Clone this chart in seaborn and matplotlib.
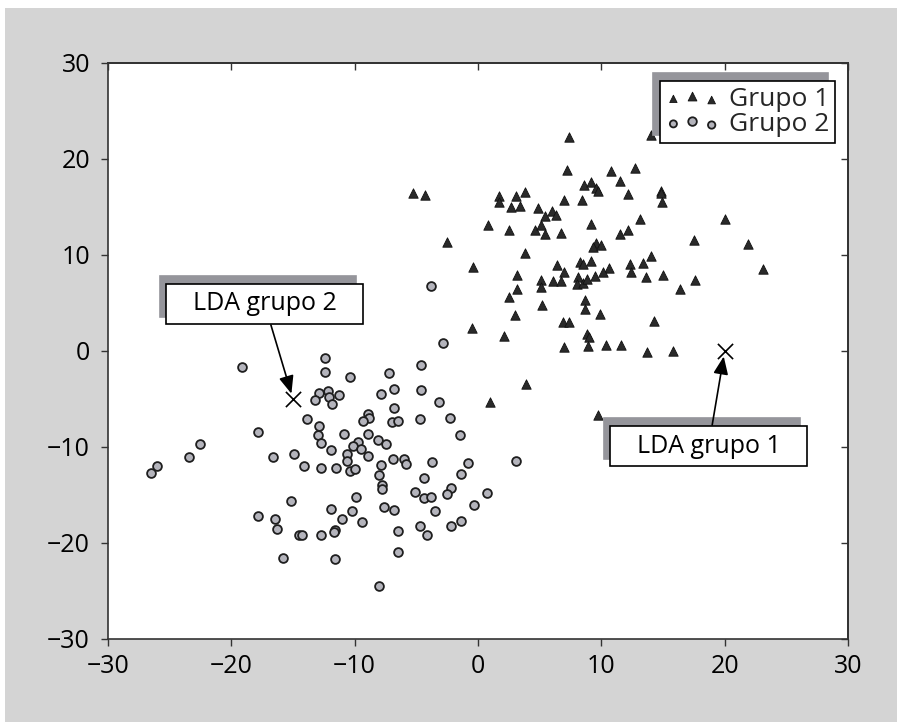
import matplotlib
matplotlib.use("Agg")
import matplotlib.pyplot as plt
from matplotlib.patches import Rectangle, Shadow
from matplotlib.legend_handler import HandlerPathCollection
import seaborn as sns
import pandas as pd

# ---- data ----
g1_x = [-5.3, -4.3, 7.4, 14.0, 7.2, 10.8, 12.7, 11.5, 8.6, 9.2, 9.6, 9.7, 12.2, 14.8, 14.8, 14.9,
        1.7, 1.7, 3.1, 3.8, 2.7, 3.4, 4.9, 5.4, 6.0, 6.3, 7.0, 8.4, 13.1, 0.85, 2.5, 4.6, 5.1, 5.4,
        6.7, 9.2, 11.5, 12.2, 20.0, 17.5, 21.9, -2.55, 3.8, -0.4, 6.4, 8.3, 8.5, 9.2, 9.6, 9.3, 10.0,
        10.6, 12.3, 13.4, 14.0, 23.1, 3.2, 7.0, 5.1, 5.1, 6.1, 6.7, 8.1, 8.0, 8.5, 8.8, 9.5, 10.1,
        12.4, 13.6, 15.0, 17.6, 16.4, 3.2, 2.5, 5.2, 8.7, 8.7, 9.9, 3.0, 6.9, 7.4, 14.3, -0.45, 2.1,
        8.8, 9.0, 7.0, 8.95, 10.4, 11.6, 13.7, 15.8, 3.9, 1.0, 9.7]
g1_y = [16.5, 16.3, 22.3, 22.5, 18.9, 18.7, 19.1, 17.7, 17.25, 17.6, 17.0, 16.7, 16.4, 16.7, 16.5, 15.5,
        16.1, 15.5, 16.1, 16.6, 14.95, 15.1, 14.85, 14.1, 14.6, 14.2, 15.7, 15.7, 13.8, 13.1, 12.65, 12.65, 13.1, 12.2,
        12.3, 13.2, 12.2, 12.65, 13.8, 11.6, 11.1, 11.4, 10.25, 8.8, 9.0, 9.3, 9.1, 9.4, 11.3, 10.8, 11.0,
        8.6, 9.1, 9.2, 9.9, 8.5, 7.95, 8.2, 7.4, 6.7, 7.3, 7.3, 7.75, 7.0, 7.1, 7.5, 7.85, 8.2,
        8.2, 7.75, 7.95, 7.4, 6.5, 6.5, 5.65, 4.8, 5.3, 4.4, 3.9, 3.8, 3.0, 3.0, 3.15, 2.4, 1.6,
        1.8, 1.5, 0.4, 0.5, 0.6, 0.6, -0.1, 0.0, -3.4, -5.3, -6.7]

g2_x = [-19.1, -10.2, -3.85, -2.8, -12.4, -12.4, -10.4, -7.25, -4.6, -12.9, -12.2, -12.1, -13.2, -11.3,
        -11.8, -7.9, -6.8, -6.8, -4.6, -3.2, -13.9, -12.9, -13.0, -10.9, -8.95, -8.8, -9.35, -7.0, -6.5,
        -4.7, -2.3, -1.5, -12.7, -8.9, -9.7, -10.1, -8.1, -7.5, -11.9, -17.8, -22.55, -23.4, -26.0, -26.5,
        -16.6, -14.9, -14.1, -12.75, -11.5, -15.2, -17.8, -16.5, -16.3, -14.5, -12.7, -11.9, -11.6, -11.7,
        -11.05, -15.8, -11.6, -9.5, -10.6, -10.65, -10.4, -10.0, -8.95, -7.9, -6.9, -6.0, -5.8, -8.05,
        -7.8, -7.8, -3.7, -0.8, -1.4, -4.4, -2.2, -2.5, -5.1, -4.4, -3.8, 0.7, -0.3, -3.5, -9.9, -10.2,
        -9.4, -7.6, -6.85, -4.7, -4.1, -6.5, -2.2, -1.4, -14.3, -6.5, -8.0, 3.1]
g2_y = [-1.65, 4.8, 6.8, 0.85, -0.7, -2.2, -2.7, -2.3, -1.45, -4.4, -4.2, -4.8, -5.1, -4.6,
        -5.5, -4.5, -4.0, -5.95, -4.1, -5.3, -7.1, -7.8, -8.7, -8.6, -6.6, -7.0, -7.3, -7.4, -7.3,
        -7.1, -7.0, -8.7, -9.6, -8.6, -9.5, -9.9, -9.3, -9.7, -10.3, -8.45, -9.7, -11.0, -12.0, -12.7,
        -11.0, -10.75, -12.0, -12.2, -12.2, -15.6, -17.2, -17.5, -18.5, -19.2, -19.2, -16.5, -18.6, -18.9,
        -17.5, -21.6, -21.7, -10.2, -10.75, -11.5, -12.5, -12.3, -10.9, -11.9, -11.2, -11.2, -11.8, -12.95,
        -14.0, -14.4, -11.6, -11.7, -12.85, -13.25, -14.3, -14.9, -14.7, -15.35, -15.25, -14.8, -16.0, -16.7, -15.25, -16.7,
        -17.85, -16.2, -16.6, -18.2, -19.2, -18.7, -18.2, -17.75, -19.2, -20.9, -24.5, -11.5]

lda_x = [20.0, -15.0]
lda_y = [0.0, -5.0]
lda_labels = ["LDA grupo 1", "LDA grupo 2"]
lda_text_x = [18.7, -17.3]
lda_text_y = [-9.9, 4.9]

series_labels = ["Grupo 1", "Grupo 2"]
ticks = [-30, -20, -10, 0, 10, 20, 30]

df1 = pd.DataFrame({"x": g1_x, "y": g1_y})
df2 = pd.DataFrame({"x": g2_x, "y": g2_y})

# ---- style ----
sns.set_theme(style="ticks")
plt.rcParams["font.family"] = ["Open Sans", "DejaVu Sans"]

BG = "#d4d4d4"
SHADOW = "#95959b"
fig = plt.figure(figsize=(8.97, 7.22), dpi=100, facecolor=BG)
fig.add_artist(Rectangle((0, 1 - 8 / 722), 1, 8 / 722, transform=fig.transFigure,
                         facecolor="white", edgecolor="none"))
fig.add_artist(Rectangle((0, 0), 5 / 897, 1, transform=fig.transFigure,
                         facecolor="white", edgecolor="none"))

ax = fig.add_axes([108 / 897, 1 - 639 / 722, (848 - 108) / 897, (639 - 63) / 722])
ax.set_facecolor("white")

sns.scatterplot(data=df1, x="x", y="y", ax=ax, marker="^", s=46, color="#2a2a2a",
                edgecolor="#101010", linewidth=0.6, legend=False, zorder=3)
sns.scatterplot(data=df2, x="x", y="y", ax=ax, marker="o", s=40, color="#b4b4bc",
                edgecolor="#1e1e1e", linewidth=1.3, legend=False, zorder=3)
tri_coll, circ_coll = ax.collections[0], ax.collections[1]

ax.scatter(lda_x, lda_y, marker="x", s=120, color="black", linewidths=1.2, zorder=4)

ax.set_xlim(-30, 30)
ax.set_ylim(-30, 30)
ax.set_xticks(ticks)
ax.set_yticks(ticks)
ax.set_xlabel("")
ax.set_ylabel("")
for sp in ax.spines.values():
    sp.set_visible(True)
    sp.set_color("#333333")
    sp.set_linewidth(1.2)
ax.tick_params(axis="both", direction="out", length=5, width=1.0, color="#333333",
               labelsize=18, labelcolor="black")
ax.tick_params(axis="y", pad=8)
ax.tick_params(axis="x", pad=6)

secx = ax.secondary_xaxis("top")
secx.set_xticks(ticks)
secx.tick_params(direction="in", length=5, width=1.0, color="#333333", labeltop=False)
secy = ax.secondary_yaxis("right")
secy.set_yticks(ticks)
secy.tick_params(direction="in", length=5, width=1.0, color="#333333", labelright=False)

# ---- annotations with shadowed boxes ----
ann_texts = []
for lx, ly, tx, ty, lab in zip(lda_x, lda_y, lda_text_x, lda_text_y, lda_labels):
    t = ax.annotate(lab, xy=(lx, ly), xytext=(tx, ty), ha="center", va="center",
                    fontsize=18, color="black", zorder=6,
                    bbox=dict(boxstyle="square,pad=1.05", mutation_aspect=0.3,
                              facecolor="white", edgecolor="black", linewidth=1.2),
                    arrowprops=dict(arrowstyle="-|>,head_length=0.6,head_width=0.25",
                                    mutation_scale=18, color="black", lw=1.2,
                                    shrinkA=0, shrinkB=4))
    ann_texts.append(t)

# ---- legend ----
leg = ax.legend([tri_coll, circ_coll], series_labels,
                loc="upper right", bbox_to_anchor=(835 / 897, 1 - 81 / 722),
                bbox_transform=fig.transFigure, borderaxespad=0,
                scatterpoints=3, fontsize=19, frameon=True, fancybox=False,
                framealpha=1, edgecolor="black", facecolor="white",
                handletextpad=0.35, labelspacing=0.0, borderpad=0.22, handlelength=2.05,
                shadow={"ox": -5, "oy": 5.5, "color": SHADOW, "alpha": 1},
                handler_map={tri_coll: HandlerPathCollection(sizes=[28, 40, 30]),
                             circ_coll: HandlerPathCollection(sizes=[26, 38, 28])})
leg.get_frame().set_linewidth(1.2)
leg.set_zorder(7)

# first draw positions the annotation boxes, then attach shadows to them
fig.canvas.draw()
for t in ann_texts:
    sh = Shadow(t.get_bbox_patch(), -5, 5.5, facecolor=SHADOW, edgecolor=SHADOW, alpha=1)
    sh.set_zorder(5)
    sh.set_clip_on(False)
    ax.add_artist(sh)

fig.savefig("out.png", dpi=100, facecolor=BG)
